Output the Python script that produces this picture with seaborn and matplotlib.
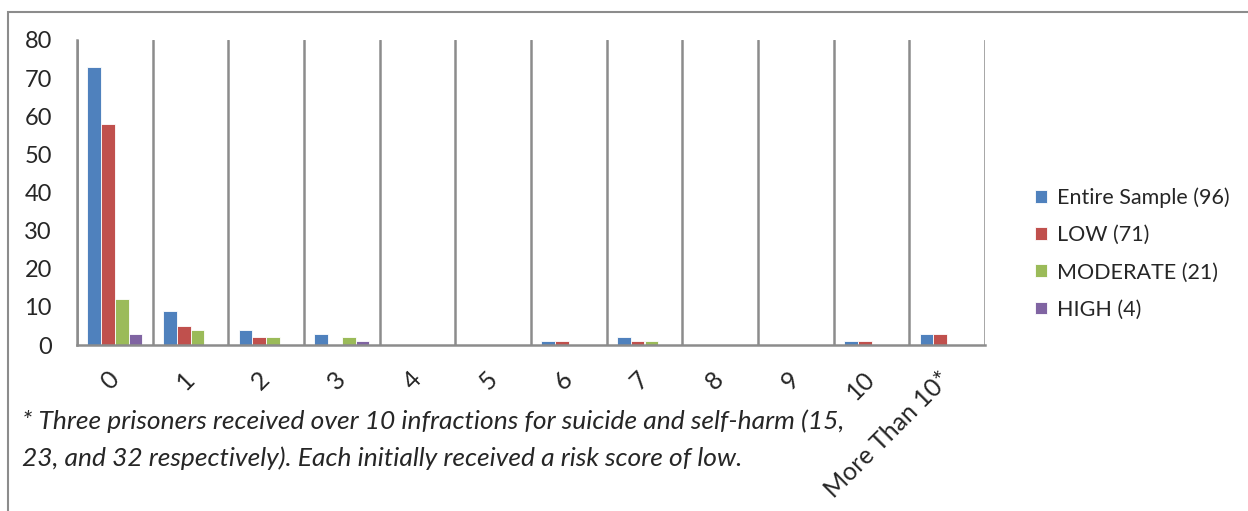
import matplotlib
matplotlib.use("Agg")
import matplotlib.pyplot as plt
import seaborn as sns
import pandas as pd
from matplotlib.patches import Rectangle

categories = ["0", "1", "2", "3", "4", "5", "6", "7", "8", "9", "10", "More Than 10*"]
entire = [73, 9, 4, 3, 0, 0, 1, 2, 0, 0, 1, 3]
low = [58, 5, 2, 0, 0, 0, 1, 1, 0, 0, 1, 3]
moderate = [12, 4, 2, 2, 0, 0, 0, 1, 0, 0, 0, 0]
high = [3, 0, 0, 1, 0, 0, 0, 0, 0, 0, 0, 0]
series_names = ["Entire Sample (96)", "LOW (71)", "MODERATE (21)", "HIGH (4)"]
colors = ["#4F81BD", "#C0504D", "#9BBB59", "#8064A2"]
footnote = ("* Three prisoners received over 10 infractions for suicide and self-harm (15,\n"
            "23, and 32 respectively). Each initially received a risk score of low.")

rows = []
for name, vals in zip(series_names, [entire, low, moderate, high]):
    for c, v in zip(categories, vals):
        rows.append({"cat": c, "series": name, "value": v})
df = pd.DataFrame(rows)

sns.set_style("white")
plt.rcParams["font.family"] = ["Lato", "DejaVu Sans"]

fig = plt.figure(figsize=(12.48, 5.11), dpi=100)
ax = fig.add_axes([77/1248, 1 - 345/511, (985 - 77)/1248, (345 - 40)/511])

sns.barplot(data=df, x="cat", y="value", hue="series", order=categories,
            hue_order=series_names, palette=colors, width=0.73, gap=0,
            edgecolor="white", linewidth=0.6, ax=ax, saturation=1)

ax.set_ylim(0, 80)
ax.set_xlim(-0.5, len(categories) - 0.5)
ax.set_yticks(range(0, 81, 10))
ax.tick_params(axis="y", labelsize=17, length=0, pad=18)
ax.set_xticks(range(len(categories)))
ax.set_xticklabels(categories, rotation=45, ha="right", va="center",
                   rotation_mode="anchor", fontsize=18)
ax.tick_params(axis="x", length=0, pad=22)
ax.set_xticks([i - 0.5 for i in range(len(categories) + 1)], minor=True)
ax.tick_params(axis="x", which="minor", length=0)
ax.grid(False)
ax.xaxis.grid(True, which="minor", color="#8c8c8c", linewidth=1.8)
ax.set_xlabel("")
ax.set_ylabel("")
for s in ["top", "right"]:
    ax.spines[s].set_visible(False)
for s in ["left", "bottom"]:
    ax.spines[s].set_color("#8c8c8c")
    ax.spines[s].set_linewidth(1.8)

leg = ax.legend(loc="center left", bbox_to_anchor=(1.034, 0.30), frameon=False,
                fontsize=15.5, handlelength=0.55, handleheight=0.55, handletextpad=0.45,
                labelspacing=0.8)

fig.text(22/1248, 1 - 409/511, footnote, fontsize=19, style="italic",
         ha="left", va="top", linespacing=1.7)

fig.patches.append(Rectangle((8/1248, -0.5), 2, 0.5 + (1 - 12/511), transform=fig.transFigure,
                             fill=False, edgecolor="#8c8c8c", linewidth=1.5))

fig.savefig("out.png", dpi=100)
